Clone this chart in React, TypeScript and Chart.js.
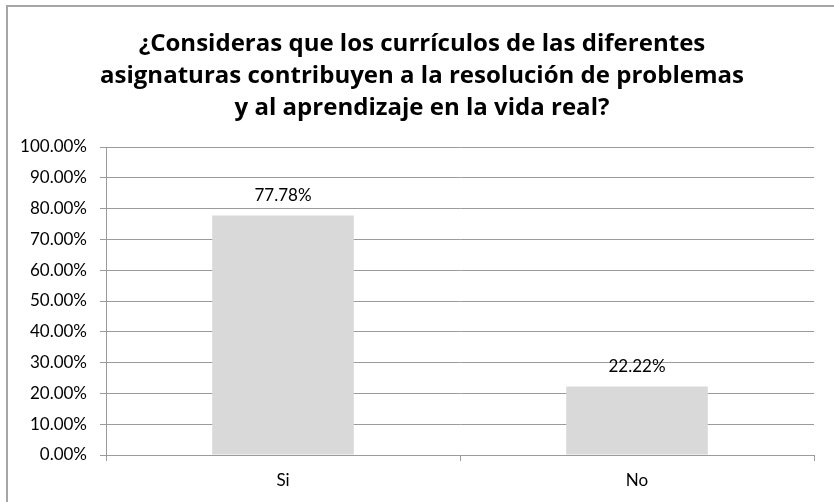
import React, { useEffect, useRef } from "react";
import { Chart, registerables } from "chart.js";

Chart.register(...registerables);

const titleLines = [
  "¿Consideras que los currículos de las diferentes",
  "asignaturas contribuyen a la resolución de problemas",
  "y al aprendizaje en la vida real?",
];
const categories = ["Si", "No"];
const values = [77.78, 22.22];

const GRID = "#9b9b9b";
const TICK_FONT = { family: "Lato, 'Liberation Sans', sans-serif", size: 17 };

const framePlugin = {
  id: "frame",
  beforeDraw(chart: any) {
    const ctx = chart.ctx;
    ctx.save();
    ctx.strokeStyle = "#a6a6a6";
    ctx.lineWidth = 2;
    ctx.beginPath();
    ctx.moveTo(7, 600);
    ctx.lineTo(7, 6);
    ctx.lineTo(834, 6);
    ctx.stroke();
    ctx.restore();
  },
};

const titlePlugin = {
  id: "titleLines",
  afterDraw(chart: any) {
    const ctx = chart.ctx;
    ctx.save();
    ctx.fillStyle = "#000";
    ctx.textAlign = "center";
    ctx.textBaseline = "alphabetic";
    ctx.font = "bold 24px 'Open Sans', 'Liberation Sans', sans-serif";
    const w = ctx.measureText(titleLines[1]).width;
    const sx = 644 / w;
    const cx = 422;
    titleLines.forEach((line, i) => {
      ctx.save();
      ctx.translate(cx, 51 + i * 32);
      ctx.scale(sx, 1);
      ctx.fillText(line, 0, 0);
      ctx.restore();
    });
    ctx.restore();
  },
};

const labelPlugin = {
  id: "barLabels",
  afterDatasetsDraw(chart: any) {
    const ctx = chart.ctx;
    const meta = chart.getDatasetMeta(0);
    ctx.save();
    ctx.fillStyle = "#000";
    ctx.textAlign = "center";
    ctx.textBaseline = "middle";
    ctx.font = `${TICK_FONT.size}px ${TICK_FONT.family}`;
    meta.data.forEach((bar: any, i: number) => {
      ctx.fillText(values[i].toFixed(2) + "%", bar.x, bar.y - 20);
    });
    ctx.restore();
  },
};

export default function App() {
  const ref = useRef<HTMLCanvasElement>(null);
  useEffect(() => {
    if (!ref.current) return;
    const chart = new Chart(ref.current, {
      type: "bar",
      data: {
        labels: categories,
        datasets: [
          {
            data: values,
            backgroundColor: "#d9d9d9",
            borderWidth: 0,
            categoryPercentage: 0.8,
            barPercentage: 0.5,
          },
        ],
      },
      options: {
        animation: false,
        responsive: false,
        maintainAspectRatio: false,
        layout: { padding: { top: 147, right: 20, left: 0, bottom: 0 } },
        plugins: {
          legend: { display: false },
          title: { display: false },
          tooltip: { enabled: false },
        },
        scales: {
          x: {
            offset: true,
            grid: {
              offset: true,
              drawOnChartArea: false,
              drawTicks: true,
              tickLength: 6,
              color: GRID,
            },
            border: { color: GRID, width: 1 },
            ticks: { color: "#000", font: TICK_FONT, padding: 9 },
            afterFit(scale: any) {
              scale.height = 47;
            },
          },
          y: {
            min: 0,
            max: 100,
            ticks: {
              stepSize: 10,
              color: "#000",
              font: TICK_FONT,
              padding: 13,
              callback: (v: any) => Number(v).toFixed(2) + "%",
            },
            grid: { color: GRID, tickLength: 6, drawTicks: true },
            border: { color: GRID, width: 1 },
            afterFit(scale: any) {
              scale.width = 106;
            },
          },
        },
      },
      plugins: [framePlugin, titlePlugin, labelPlugin],
    });
    return () => chart.destroy();
  }, []);
  return (
    <div style={{ position: "absolute", left: 0, top: 0, width: 834, height: 502, background: "#fff" }}>
      <canvas ref={ref} width={834} height={502} style={{ display: "block" }} />
    </div>
  );
}
